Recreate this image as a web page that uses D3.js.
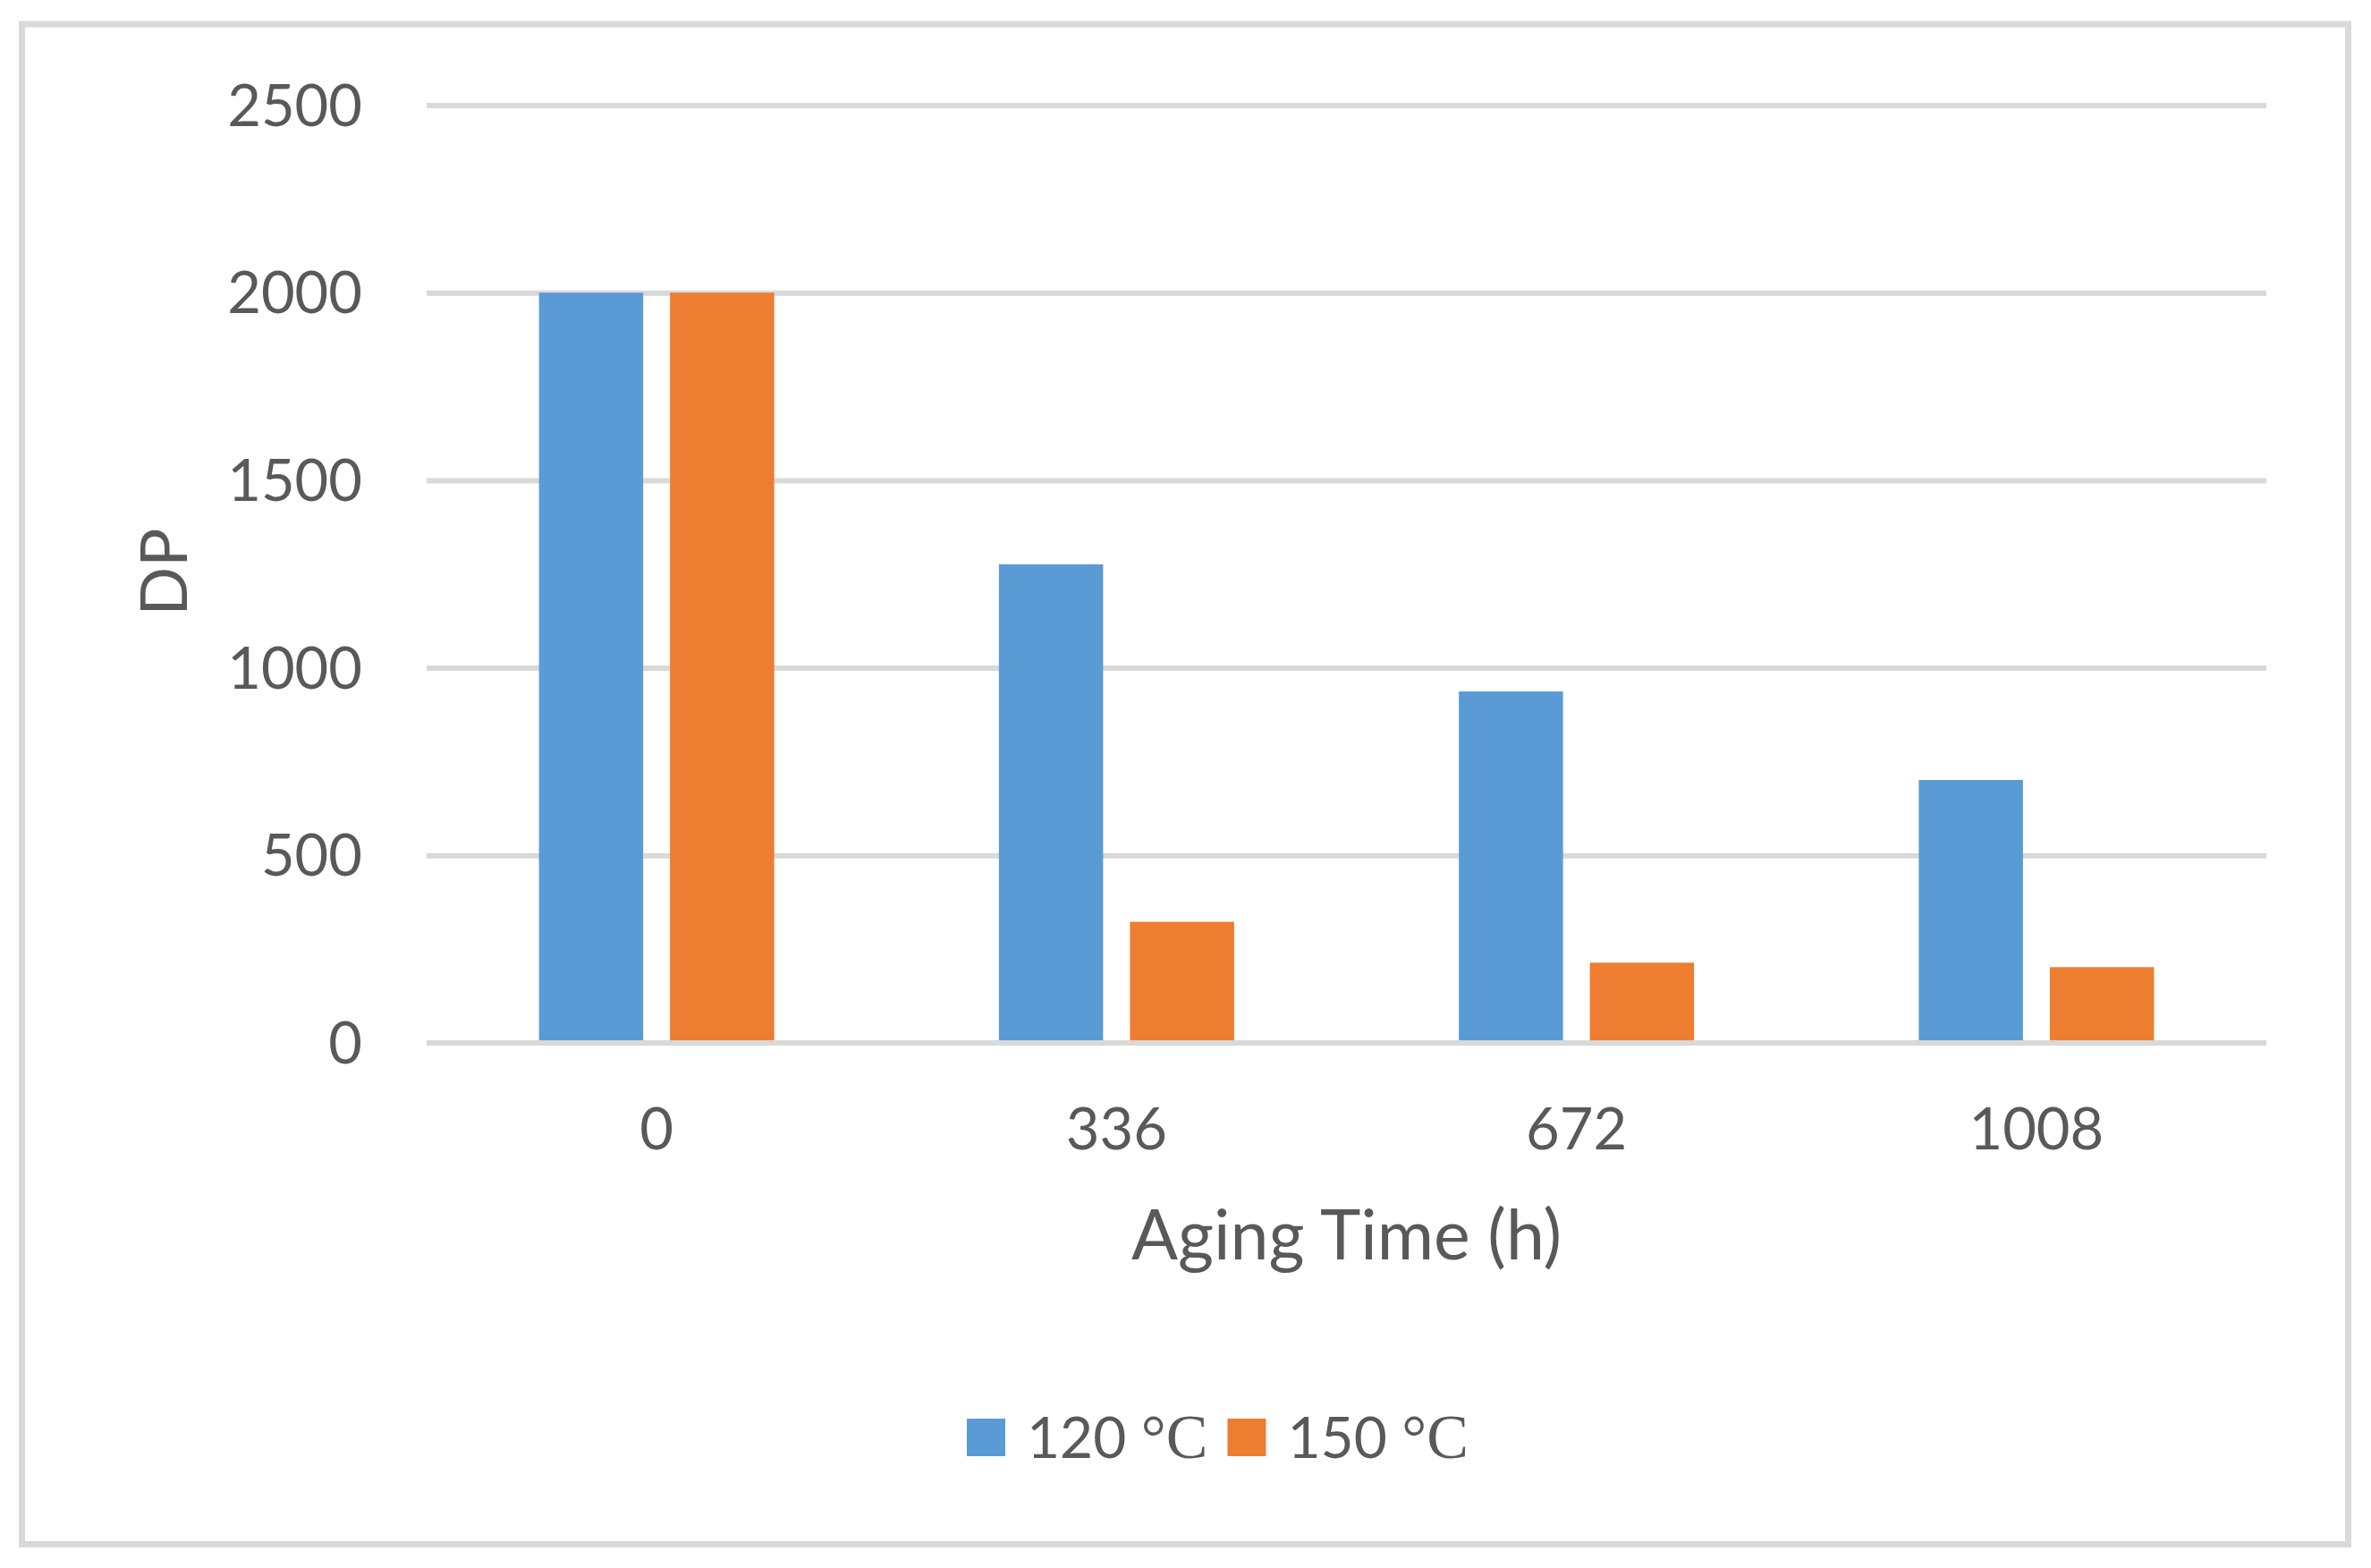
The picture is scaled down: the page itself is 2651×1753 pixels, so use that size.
<!DOCTYPE html>
<html>
<head>
<meta charset="utf-8">
<script src="https://cdn.jsdelivr.net/npm/d3@7"></script>
<style>
  html, body { margin: 0; padding: 0; background: #ffffff; }
  svg { display: block; }
  text { font-family: Lato, "Open Sans", sans-serif; fill: #595959; }
</style>
</head>
<body>
<svg id="chart" width="2651" height="1753"></svg>
<script>
// ---- data ----
const categories = ["0", "336", "672", "1008"];
const seriesNames = ["120 °C", "150 °C"];
const values120 = [2000, 1276, 937, 701];
const values150 = [2000, 323, 214, 202];
const yTicks = [0, 500, 1000, 1500, 2000, 2500];
const seriesColors = ["#5b9bd5", "#ed7d31"];
const xTitle = "Aging Time (h)";
const yTitle = "DP";

const seriesValues = [values120, values150];

// ---- layout ----
const W = 2651, H = 1753;
const plot = { left: 477, right: 2534, top: 117.5, bottom: 1166 };
const svg = d3.select("#chart");

// outer frame
svg.append("rect")
  .attr("x", 0).attr("y", 0).attr("width", W).attr("height", H)
  .attr("fill", "#ffffff");
svg.append("rect")
  .attr("x", 24.5).attr("y", 27).attr("width", 2601).attr("height", 1699.5)
  .attr("fill", "#ffffff").attr("stroke", "#d9d9d9").attr("stroke-width", 7);

const x = d3.scaleBand().domain(categories).range([plot.left, plot.right]).paddingInner(0).paddingOuter(0);
const groupW = 263;
const x1 = d3.scaleBand().domain(seriesNames).range([-groupW / 2, groupW / 2]).paddingInner(30 / 146.5).paddingOuter(0);
const y = d3.scaleLinear().domain([0, 2500]).range([plot.bottom, plot.top]);

// gridlines (non-zero)
const yAxis = d3.axisLeft(y).tickValues(yTicks).tickSize(0).tickPadding(0);
const gy = svg.append("g").attr("transform", `translate(${plot.left},0)`).call(yAxis);
gy.select(".domain").remove();
gy.selectAll(".tick text").remove();
gy.selectAll(".tick").append("line")
  .attr("x1", 0).attr("x2", plot.right - plot.left)
  .attr("stroke", "#d9d9d9").attr("stroke-width", 6)
  .attr("display", d => d === 0 ? "none" : null);

// bars
const groups = svg.append("g").selectAll("g")
  .data(categories)
  .join("g")
  .attr("transform", d => `translate(${x(d) + x.bandwidth() / 2},0)`);

groups.selectAll("rect")
  .data((c, i) => seriesNames.map((s, k) => ({ s, k, v: seriesValues[k][i] })))
  .join("rect")
  .attr("x", d => x1(d.s))
  .attr("width", x1.bandwidth())
  .attr("y", d => y(d.v))
  .attr("height", d => y(0) - y(d.v))
  .attr("fill", d => seriesColors[d.k]);

// zero line on top
svg.append("line")
  .attr("x1", plot.left).attr("x2", plot.right)
  .attr("y1", y(0)).attr("y2", y(0))
  .attr("stroke", "#d9d9d9").attr("stroke-width", 6);

// y tick labels
svg.append("g").selectAll("text")
  .data(yTicks)
  .join("text")
  .attr("x", 405)
  .attr("y", d => y(d) + 23)
  .attr("text-anchor", "end")
  .attr("font-size", 65)
  .text(d => d);

// x tick labels
const xAxis = d3.axisBottom(x).tickSize(0).tickPadding(0);
const gx = svg.append("g").attr("transform", `translate(0,0)`).call(xAxis);
gx.select(".domain").remove();
gx.selectAll(".tick text")
  .attr("y", 1285)
  .attr("dy", null)
  .attr("font-size", 65)
  .attr("font-family", "Lato, 'Open Sans', sans-serif")
  .attr("fill", "#595959");

// axis titles
svg.append("text")
  .attr("x", (plot.left + plot.right) / 2)
  .attr("y", 1408)
  .attr("text-anchor", "middle")
  .attr("font-size", 77)
  .text(xTitle);

svg.append("text")
  .attr("transform", `translate(209,639.5) rotate(-90)`)
  .attr("text-anchor", "middle")
  .attr("font-size", 72)
  .text(yTitle);

// legend
const legend = svg.append("g");
let lx = 1081;
seriesNames.forEach((name, k) => {
  legend.append("rect")
    .attr("x", lx).attr("y", 1586).attr("width", 43).attr("height", 42)
    .attr("fill", seriesColors[k]);
  const parts = name.split(" ");
  const t = legend.append("text")
    .attr("x", lx + 67).attr("y", 1629.5)
    .attr("font-size", 64);
  t.append("tspan").text(parts[0] + " ");
  t.append("tspan").attr("font-family", "'Liberation Serif', serif").attr("font-size", 70).attr("fill", "#595959").text(parts[1]);
  const w = t.node().getComputedTextLength();
  lx = lx + 67 + w + 22;
});
</script>
</body>
</html>
